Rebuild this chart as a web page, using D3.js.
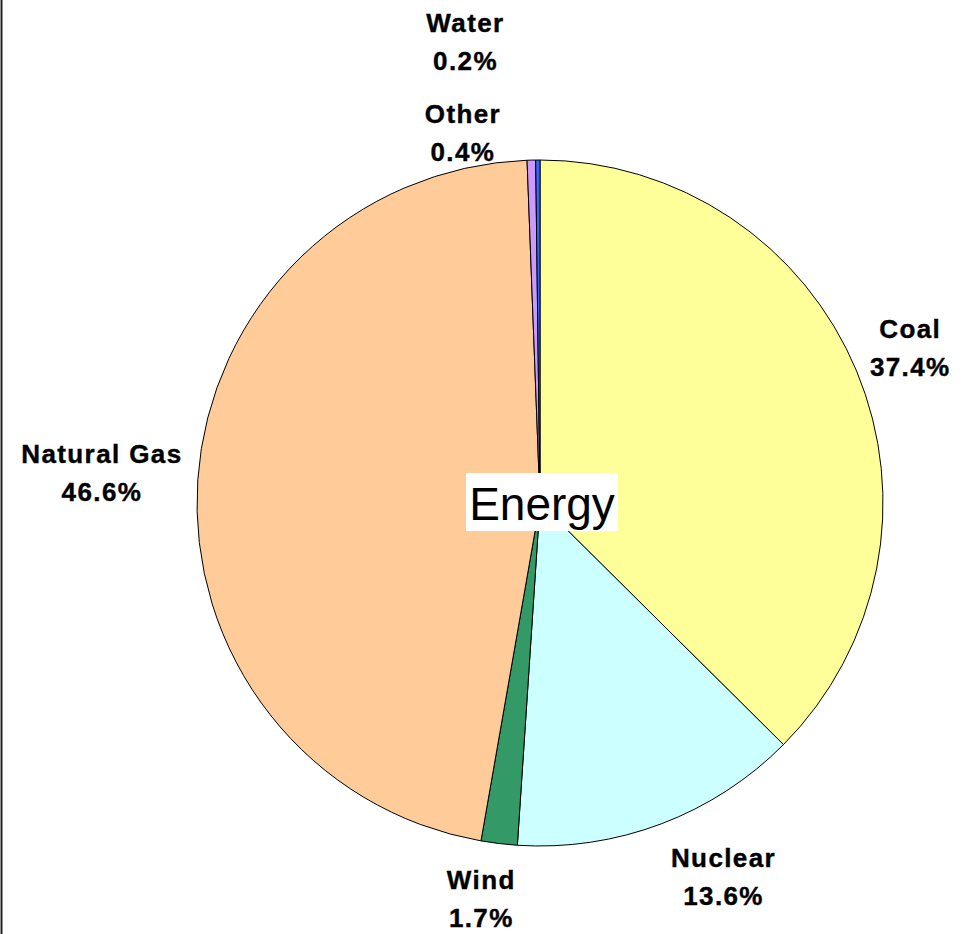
<!DOCTYPE html>
<html>
<head>
<meta charset="utf-8">
<script src="https://cdn.jsdelivr.net/npm/d3@7"></script>
<style>
  html, body { margin: 0; padding: 0; background: #fff; }
  svg { display: block; }
  .lbl { font-family: "Liberation Sans", Arial, sans-serif; font-weight: bold; font-size: 26px; letter-spacing: 1.4px; fill: #000; stroke: #000; stroke-width: 0.4px; }
  .title { font-family: "Liberation Sans", Arial, sans-serif; font-size: 46px; fill: #000; }
</style>
</head>
<body>
<svg id="chart" width="968" height="934"></svg>
<script>
// ── Data ─────────────────────────────────────────────────────────────────────
const categories = ['Coal', 'Nuclear', 'Wind', 'Natural Gas', 'Other', 'Water'];
const shares     = [37.4, 13.6, 1.7, 46.6, 0.4, 0.2];
const colors     = ['#FFFF99', '#CCFFFF', '#339966', '#FFCC99', '#CC99FF', '#3366FF'];
// small label nudges (px) off the label ring, like Excel's best-fit placement
const labelNudge = [[1, -1], [42, 0], [-11, -1], [-39, -3], [-67, 30], [-72, -61]];

const W = 968, H = 934;
const cx = 540, cy = 503, R = 343, R_LABEL = 400;

const svg = d3.select('#chart');

// left frame edge
svg.append('line')
  .attr('x1', 1.5).attr('x2', 1.5).attr('y1', 0).attr('y2', H)
  .attr('stroke', '#222').attr('stroke-width', 2);

const data = categories.map((c, i) => ({ name: c, value: shares[i], color: colors[i], nudge: labelNudge[i] }));

const pie = d3.pie().sort(null).value(d => d.value);
const arcs = pie(data);
const arc = d3.arc().innerRadius(0).outerRadius(R);

const g = svg.append('g').attr('transform', `translate(${cx},${cy})`);

g.selectAll('path.slice')
  .data(arcs)
  .enter().append('path')
  .attr('class', 'slice')
  .attr('d', arc)
  .attr('fill', d => d.data.color)
  .attr('stroke', '#000')
  .attr('stroke-width', 1)
  .attr('stroke-linejoin', 'round');

// ── Labels ───────────────────────────────────────────────────────────────────
const lab = g.selectAll('g.lab')
  .data(arcs)
  .enter().append('g')
  .attr('class', 'lab')
  .attr('transform', d => {
    const a = (d.startAngle + d.endAngle) / 2;
    const x = Math.sin(a) * R_LABEL + d.data.nudge[0];
    const y = -Math.cos(a) * R_LABEL + d.data.nudge[1];
    return `translate(${x},${y})`;
  });

lab.append('text')
  .attr('class', 'lbl')
  .attr('text-anchor', 'middle')
  .attr('y', -10)
  .text(d => d.data.name);

lab.append('text')
  .attr('class', 'lbl')
  .attr('text-anchor', 'middle')
  .attr('y', 28)
  .text(d => d3.format('.1f')(d.data.value) + '%');

// ── Centre title ─────────────────────────────────────────────────────────────
const title = svg.append('g');
title.append('rect')
  .attr('x', 466).attr('y', 473)
  .attr('width', 152).attr('height', 58)
  .attr('fill', '#fff');
title.append('text')
  .attr('class', 'title')
  .attr('x', 542).attr('y', 520)
  .attr('text-anchor', 'middle')
  .text('Energy');
</script>
</body>
</html>
